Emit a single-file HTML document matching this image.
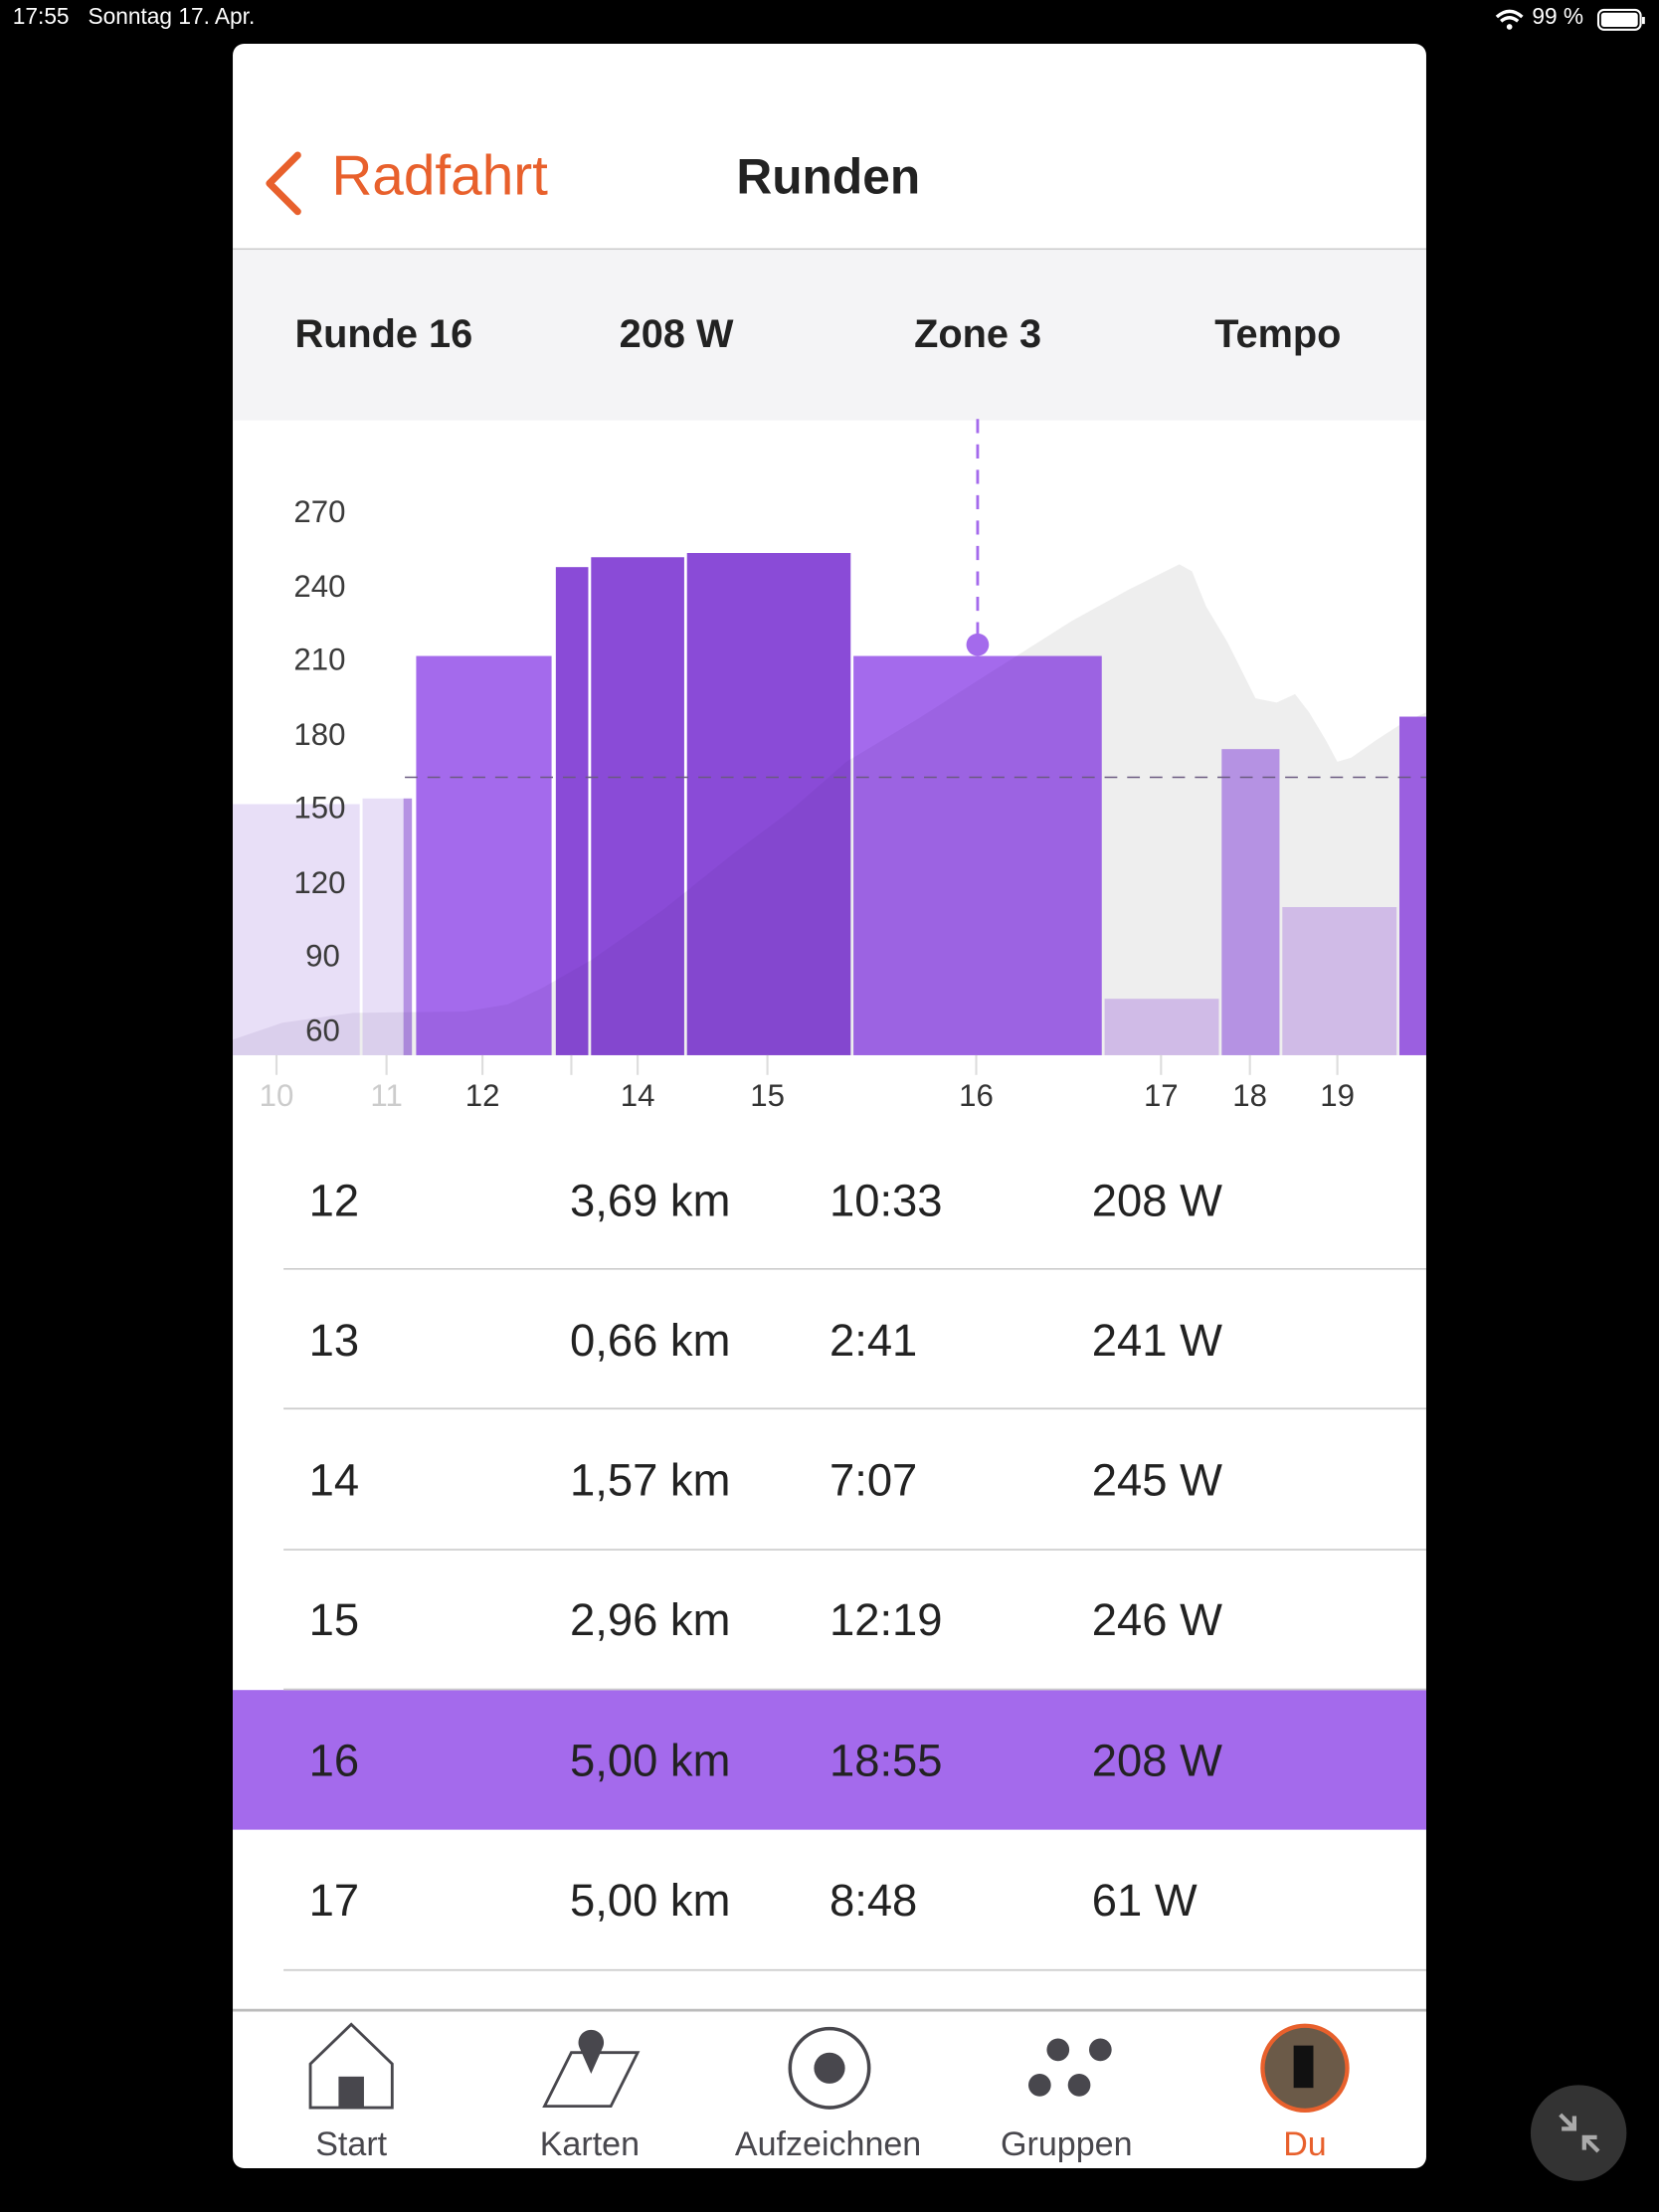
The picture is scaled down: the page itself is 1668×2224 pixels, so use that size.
<!DOCTYPE html>
<html><head><meta charset="utf-8"><style>
html,body{margin:0;padding:0;background:#000;width:1668px;height:2224px;overflow:hidden}
#s{position:absolute;left:0;top:0;width:1176px;height:1568px;transform:scale(1.418367);transform-origin:0 0;font-family:"Liberation Sans",sans-serif}
.t{position:absolute;white-space:nowrap}
</style></head><body><div id="s">
<div class="t" style="left:9px;top:4px;color:#fff;font-size:16px">17:55&nbsp;&nbsp; Sonntag 17. Apr.</div>
<div class="t" style="left:1086px;top:4px;color:#fff;font-size:16px">99 %</div>
<svg style="position:absolute;left:1058px;top:5px" width="120" height="20">
<path d="M3 7 Q12 -1 21 7" stroke="#fff" stroke-width="2.4" fill="none"/><path d="M6 10 Q12 5 18 10" stroke="#fff" stroke-width="2.4" fill="none"/><circle cx="12" cy="14" r="2" fill="#fff"/>
<rect x="75" y="2" width="30" height="14" rx="4" fill="none" stroke="#fff" stroke-width="1.5"/><rect x="77" y="4" width="26" height="10" rx="2" fill="#fff"/><rect x="106" y="7" width="2" height="5" fill="#fff"/></svg>
<div style="position:absolute;left:165px;top:31px;width:846px;height:1506px;background:#fff;border-radius:8px;overflow:hidden">
<svg style="position:absolute;left:20px;top:75px" width="30" height="50"><path d="M26 4 L6 24 L26 44" stroke="#e8602c" stroke-width="5" fill="none" stroke-linecap="round" stroke-linejoin="round"/></svg>
<div class="t" style="left:70px;top:72px;color:#e8602c;font-size:40px">Radfahrt</div>
<div class="t" style="left:357px;top:75px;color:#222;font-size:35px;font-weight:bold">Runden</div>
<div style="position:absolute;left:0;top:145px;width:846px;height:121px;background:#f4f4f6;border-top:1px solid #c8c8c8"></div>
<div class="t" style="left:44px;top:190px;color:#222;font-size:28px;font-weight:bold">Runde 16</div>
<div class="t" style="left:274px;top:190px;color:#222;font-size:28px;font-weight:bold">208 W</div>
<div class="t" style="left:483px;top:190px;color:#222;font-size:28px;font-weight:bold">Zone 3</div>
<div class="t" style="left:696px;top:190px;color:#222;font-size:28px;font-weight:bold">Tempo</div>
</div>
<svg style="position:absolute;left:0;top:0" width="1176" height="1568">
<defs><clipPath id="cb"><rect x="165" y="570" width="90" height="178"/><rect x="257" y="566" width="35" height="182"/><rect x="295" y="465" width="96" height="283"/><rect x="394" y="402" width="23" height="346"/><rect x="419" y="395" width="66" height="353"/><rect x="487" y="392" width="116" height="356"/><rect x="605" y="465" width="176" height="283"/></clipPath></defs>
<polygon points="165,748 165,737 200,725 250,718 330,717 360,712 385,700 420,680 470,645 520,605 560,575 600,540 650,510 700,478 760,440 800,418 836,400 845,405 855,430 870,455 890,495 905,498 918,492 928,505 940,525 948,540 958,537 975,525 995,512 1011,505 1011,748" fill="#eeeeee"/>
<rect x="165" y="570" width="90" height="178" fill="#e8dff7"/>
<rect x="257" y="566" width="29" height="182" fill="#e8dff7"/><rect x="286" y="566" width="6" height="182" fill="#b592e3"/>
<rect x="295" y="465" width="96" height="283" fill="#a46aec"/>
<rect x="394" y="402" width="23" height="346" fill="#8a4bd7"/>
<rect x="419" y="395" width="66" height="353" fill="#8a4bd7"/>
<rect x="487" y="392" width="116" height="356" fill="#8a4bd7"/>
<rect x="605" y="465" width="176" height="283" fill="#a46aec"/>
<rect x="783" y="708" width="81" height="40" fill="#d0bbe7"/>
<rect x="866" y="531" width="41" height="217" fill="#b592e3"/>
<rect x="909" y="643" width="81" height="105" fill="#d0bbe7"/>
<rect x="992" y="508" width="19" height="240" fill="#9b5fe0"/>
<polygon points="165,748 165,737 200,725 250,718 330,717 360,712 385,700 420,680 470,645 520,605 560,575 600,540 650,510 700,478 760,440 800,418 836,400 845,405 855,430 870,455 890,495 905,498 918,492 928,505 940,525 948,540 958,537 975,525 995,512 1011,505 1011,748" fill="rgba(70,20,120,0.08)" clip-path="url(#cb)"/>
<g font-size="22" fill="#3a3a3a" text-anchor="end"><text x="245" y="370">270</text><text x="245" y="423">240</text><text x="245" y="475">210</text><text x="245" y="528">180</text><text x="245" y="580">150</text><text x="245" y="633">120</text><text x="241" y="685">90</text><text x="241" y="738">60</text></g>
<line x1="287" y1="551" x2="1011" y2="551" stroke="#6a5a80" stroke-width="1" stroke-dasharray="9,7"/>
<line x1="693" y1="297" x2="693" y2="450" stroke="#a46aec" stroke-width="2" stroke-dasharray="10,8"/>
<circle cx="693" cy="457" r="8" fill="#a46aec"/>
<g stroke="#ddd" stroke-width="1.5"><line x1="196" y1="748" x2="196" y2="762"/><line x1="274" y1="748" x2="274" y2="762"/><line x1="342" y1="748" x2="342" y2="762"/><line x1="405" y1="748" x2="405" y2="762"/><line x1="452" y1="748" x2="452" y2="762"/><line x1="544" y1="748" x2="544" y2="762"/><line x1="692" y1="748" x2="692" y2="762"/><line x1="823" y1="748" x2="823" y2="762"/><line x1="886" y1="748" x2="886" y2="762"/><line x1="948" y1="748" x2="948" y2="762"/></g>
<g font-size="22" fill="#333" text-anchor="middle"><text x="196" y="784" fill="#ccc">10</text><text x="274" y="784" fill="#ccc">11</text><text x="342" y="784">12</text><text x="452" y="784">14</text><text x="544" y="784">15</text><text x="692" y="784">16</text><text x="823" y="784">17</text><text x="886" y="784">18</text><text x="948" y="784">19</text></g>
<rect x="165" y="1198" width="846" height="99" fill="#a46aec"/>
<g stroke="#ccc" stroke-width="1.2"><line x1="201" y1="899.5" x2="1011" y2="899.5"/><line x1="201" y1="998.5" x2="1011" y2="998.5"/><line x1="201" y1="1098.5" x2="1011" y2="1098.5"/><line x1="201" y1="1197.5" x2="1011" y2="1197.5"/><line x1="201" y1="1396.5" x2="1011" y2="1396.5"/></g>
<g font-size="32" fill="#222">
<text x="219" y="862">12</text><text x="404" y="862">3,69 km</text><text x="588" y="862">10:33</text><text x="774" y="862">208 W</text>
<text x="219" y="961">13</text><text x="404" y="961">0,66 km</text><text x="588" y="961">2:41</text><text x="774" y="961">241 W</text>
<text x="219" y="1060">14</text><text x="404" y="1060">1,57 km</text><text x="588" y="1060">7:07</text><text x="774" y="1060">245 W</text>
<text x="219" y="1159">15</text><text x="404" y="1159">2,96 km</text><text x="588" y="1159">12:19</text><text x="774" y="1159">246 W</text>
<text x="219" y="1259">16</text><text x="404" y="1259">5,00 km</text><text x="588" y="1259">18:55</text><text x="774" y="1259">208 W</text>
<text x="219" y="1358">17</text><text x="404" y="1358">5,00 km</text><text x="588" y="1358">8:48</text><text x="774" y="1358">61 W</text></g>
<rect x="165" y="1424" width="846" height="2" fill="#bbb"/>
<rect x="165" y="1426" width="846" height="100" fill="#fff"/>
<path d="M220 1494 V1463 L249 1435 L278 1463 V1494 Z" fill="none" stroke="#48474d" stroke-width="2"/><rect x="240" y="1472" width="18" height="22" fill="#48474d"/>
<path d="M386 1493 L405 1455 H452 L433 1493 Z" fill="none" stroke="#48474d" stroke-width="2"/><path d="M411 1452 a9 9 0 1 1 16 0 L419 1470 Z" fill="#48474d"/>
<circle cx="588" cy="1466" r="28" fill="none" stroke="#48474d" stroke-width="2.5"/><circle cx="588" cy="1466" r="11" fill="#48474d"/>
<g fill="#48474d"><circle cx="750" cy="1453" r="8"/><circle cx="780" cy="1453" r="8"/><circle cx="737" cy="1478" r="8"/><circle cx="765" cy="1478" r="8"/></g>
<circle cx="925" cy="1466" r="30" fill="#6b5a48" stroke="#e8602c" stroke-width="3"/><rect x="917" y="1450" width="14" height="30" fill="#111"/>
<g font-size="24" fill="#48474d" text-anchor="middle"><text x="249" y="1528">Start</text><text x="418" y="1528">Karten</text><text x="587" y="1528">Aufzeichnen</text><text x="756" y="1528">Gruppen</text><text x="925" y="1528" fill="#e8602c">Du</text></g>
<circle cx="1119" cy="1512" r="34" fill="#333"/>
<g stroke="#aaa" stroke-width="3" fill="none"><path d="M1106 1499 L1116 1509 M1116 1500 V1509 H1107"/><path d="M1133 1525 L1123 1515 M1123 1524 V1515 H1132"/></g>
</svg>
</div></body></html>
